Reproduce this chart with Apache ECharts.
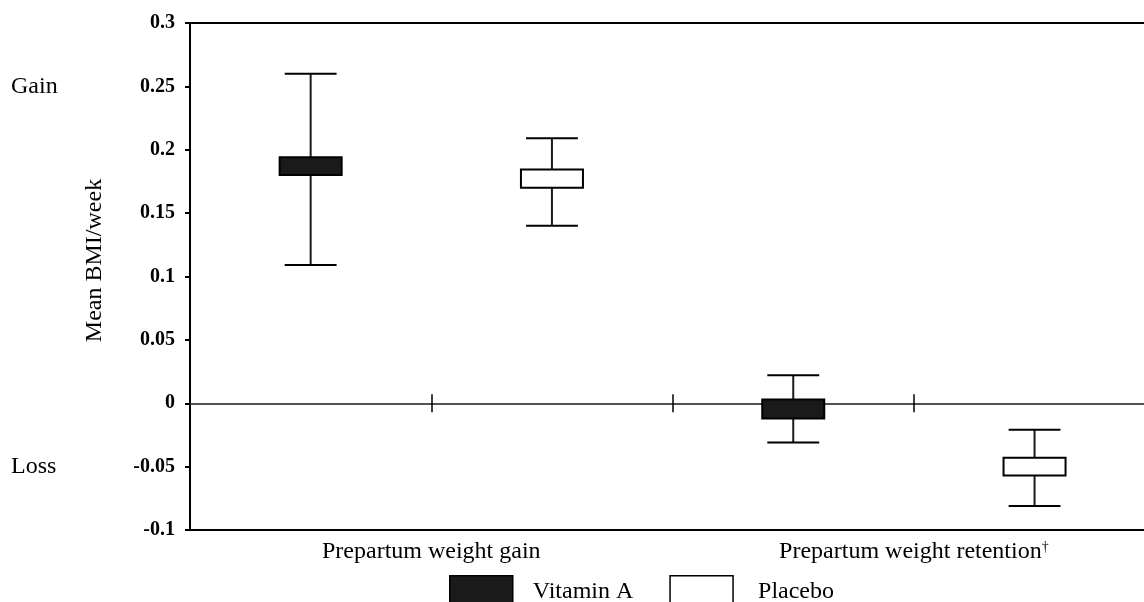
<!DOCTYPE html>
<html>
<head>
<meta charset="utf-8">
<script src="https://cdn.jsdelivr.net/npm/echarts@6/dist/echarts.min.js"></script>
<style>
  html, body { margin: 0; padding: 0; background: #fff; }
  #chart { width: 1144px; height: 602px; }
</style>
</head>
<body>
<div id="chart"></div>
<script>
// ---- data ----
const groups = ['Prepartum weight gain', 'Prepartum weight retention'];
const groupMarks = ['', '†'];
const seriesNames = ['Vitamin A', 'Placebo'];

// whisker low / box low / box high / whisker high, one value per group
const vitA_low  = [0.109, -0.031];
const vitA_q1   = [0.180, -0.012];
const vitA_q3   = [0.194,  0.003];
const vitA_high = [0.260,  0.022];

const plc_low  = [0.140, -0.081];
const plc_q1   = [0.170, -0.057];
const plc_q3   = [0.1845, -0.043];
const plc_high = [0.209, -0.021];

const yMin = -0.1, yMax = 0.3, yStep = 0.05;
const sideLabelValues = [0.25, -0.05];
const sideLabelTexts = ['Gain', 'Loss'];

// x scale: each group spans two slots; the visible area ends a little before slot 4
const xMin = 0, xMax = 3.9536;
const groupCenters = [1, 3];
const slotBoundaries = [1, 2, 3];

const FONT = "'Liberation Serif', 'Times New Roman', serif";

function buildData(low, q1, q3, high, offset) {
  return groups.map((g, i) => [groupCenters[i] + offset, low[i], q1[i], q3[i], high[i]]);
}
const vitAData = buildData(vitA_low, vitA_q1, vitA_q3, vitA_high, -0.5);
const plcData = buildData(plc_low, plc_q1, plc_q3, plc_high, 0.5);

function makeRender(fill) {
  return function (params, api) {
    const x = api.value(0);
    const pLow = api.coord([x, api.value(1)]);
    const pQ1 = api.coord([x, api.value(2)]);
    const pQ3 = api.coord([x, api.value(3)]);
    const pHigh = api.coord([x, api.value(4)]);
    const slot = api.size([1, 0])[0];
    const bw = slot * 0.257;
    const cw = slot * 0.215;
    const cx = pLow[0];
    return {
      type: 'group',
      children: [
        { type: 'line', shape: { x1: cx, y1: pLow[1], x2: cx, y2: pHigh[1] },
          style: { stroke: '#1a1a1a', lineWidth: 2 } },
        { type: 'line', shape: { x1: cx - cw / 2, y1: pLow[1], x2: cx + cw / 2, y2: pLow[1] },
          style: { stroke: '#000', lineWidth: 2 } },
        { type: 'line', shape: { x1: cx - cw / 2, y1: pHigh[1], x2: cx + cw / 2, y2: pHigh[1] },
          style: { stroke: '#000', lineWidth: 2 } },
        { type: 'rect', shape: { x: cx - bw / 2, y: pQ3[1], width: bw, height: pQ1[1] - pQ3[1] },
          style: { fill: fill, stroke: '#000', lineWidth: 2 } }
      ]
    };
  };
}

const chart = echarts.init(document.getElementById('chart'), null, { renderer: 'canvas' });

const xBase = { type: 'value', min: xMin, max: xMax, interval: 1, splitLine: { show: false } };

chart.setOption({
  animation: false,
  backgroundColor: '#fff',
  grid: { left: 190, top: 23, right: 0, bottom: 72, show: false },
  legend: {
    left: 444, top: 570,
    itemWidth: 63, itemHeight: 32, itemGap: 36,
    selectedMode: false,
    textStyle: { fontFamily: FONT, fontSize: 24, color: '#000', padding: [0, 0, 10, 15] },
    data: [
      { name: seriesNames[0], icon: 'rect',
        itemStyle: { color: '#1a1a1a', borderColor: '#000', borderWidth: 1.5 } },
      { name: seriesNames[1], icon: 'rect',
        itemStyle: { color: '#fff', borderColor: '#000', borderWidth: 1.5 },
        textStyle: { fontFamily: FONT, fontSize: 24, color: '#000', padding: [0, 0, 10, 20] } }
    ]
  },
  xAxis: [
    Object.assign({}, xBase, {
      position: 'bottom',
      axisLine: { show: true, onZero: false, lineStyle: { color: '#000', width: 2 } },
      axisTick: { show: false },
      axisLabel: {
        margin: 10,
        customValues: groupCenters,
        fontFamily: FONT, fontSize: 24, color: '#000',
        formatter: function (v) {
          const idx = groupCenters.indexOf(Math.round(v));
          if (idx < 0) return '';
          return groups[idx] + (groupMarks[idx] ? '{sup|' + groupMarks[idx] + '}' : '');
        },
        rich: { sup: { fontFamily: FONT, fontSize: 14, verticalAlign: 'top', color: '#000' } }
      }
    }),
    Object.assign({}, xBase, {
      axisLine: { show: true, onZero: true, onZeroAxisIndex: 0, lineStyle: { color: '#1a1a1a', width: 1.5 } },
      axisTick: { show: true, inside: false, length: 9, customValues: slotBoundaries, lineStyle: { color: '#000', width: 1.5 } },
      axisLabel: { show: false }
    }),
    Object.assign({}, xBase, {
      axisLine: { show: false, onZero: true, onZeroAxisIndex: 0 },
      axisTick: { show: true, inside: true, length: 9, customValues: slotBoundaries, lineStyle: { color: '#000', width: 1.5 } },
      axisLabel: { show: false }
    }),
    Object.assign({}, xBase, {
      position: 'top',
      axisLine: { show: true, onZero: false, lineStyle: { color: '#000', width: 2 } },
      axisTick: { show: false },
      axisLabel: { show: false }
    })
  ],
  yAxis: [
    {
      type: 'value', min: yMin, max: yMax, interval: yStep,
      name: 'Mean BMI/week', nameLocation: 'middle', nameGap: 83,
      nameTextStyle: { fontFamily: FONT, fontSize: 24, color: '#000', padding: [0, 0, 0, 32] },
      axisLine: { show: true, lineStyle: { color: '#000', width: 2 } },
      axisTick: { show: true, length: 5, lineStyle: { color: '#000', width: 2 } },
      splitLine: { show: false },
      axisLabel: {
        margin: 15, fontFamily: FONT, fontSize: 20, fontWeight: 'bold', color: '#000',
        formatter: function (v) { return String(+v.toFixed(2)); }
      }
    },
    {
      type: 'value', min: yMin, max: yMax, interval: yStep,
      position: 'left', offset: 171,
      axisLine: { show: false }, axisTick: { show: false }, splitLine: { show: false },
      axisLabel: {
        align: 'left', margin: 8, fontFamily: FONT, fontSize: 24, color: '#000',
        formatter: function (v) {
          for (let i = 0; i < sideLabelValues.length; i++) {
            if (Math.abs(v - sideLabelValues[i]) < 1e-9) return sideLabelTexts[i];
          }
          return '';
        }
      }
    }
  ],
  series: [
    {
      name: seriesNames[0], type: 'custom', xAxisIndex: 0, yAxisIndex: 0,
      itemStyle: { color: '#1a1a1a' },
      encode: { x: 0, y: [1, 2, 3, 4] },
      renderItem: makeRender('#1a1a1a'),
      data: vitAData
    },
    {
      name: seriesNames[1], type: 'custom', xAxisIndex: 0, yAxisIndex: 0,
      itemStyle: { color: '#fff' },
      encode: { x: 0, y: [1, 2, 3, 4] },
      renderItem: makeRender('#ffffff'),
      data: plcData
    }
  ]
});
</script>
</body>
</html>
